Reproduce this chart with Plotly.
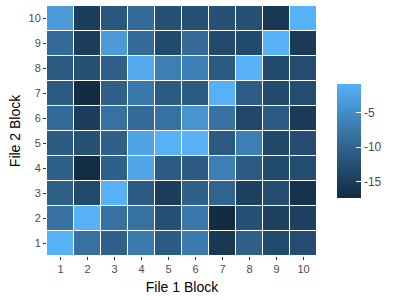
import plotly.graph_objects as go

blocks = list(range(1, 11))
# rows: File 2 Block 1..10 ; columns: File 1 Block 1..10
z_rows = [
    [-0.8, -8.3, -10.4, -7.1, -11.1, -7.1, -15.7, -10.4, -13.3, -12.8],   # y=1
    [-8.3, -0.8, -8.3, -8.3, -12.4, -7.4, -17.4, -12.4, -14.4, -14.4],    # y=2
    [-10.4, -13.3, -0.8, -11.1, -14.9, -10.4, -9.9, -14.4, -12.8, -16.6], # y=3
    [-10.4, -17.1, -10.4, -2.1, -11.1, -11.1, -6.6, -11.1, -13.3, -12.8], # y=4
    [-11.1, -12.4, -10.4, -2.5, -0.8, -0.8, -11.1, -6.6, -13.7, -12.8],   # y=5
    [-9.1, -14.9, -8.3, -9.1, -8.3, -4.1, -8.3, -13.7, -11.1, -15.4],     # y=6
    [-11.1, -17.4, -10.4, -7.4, -11.1, -11.1, -0.8, -10.8, -13.3, -12.8], # y=7
    [-11.1, -12.4, -10.4, -1.6, -6.6, -6.6, -11.1, -0.8, -13.3, -12.8],   # y=8
    [-9.1, -14.9, -3.3, -9.1, -13.3, -9.1, -13.3, -13.3, -0.8, -15.4],    # y=9
    [-3.3, -14.9, -11.6, -9.1, -12.4, -12.4, -12.4, -12.4, -15.7, -0.8],  # y=10
]
cbar_ticks = [-15, -10, -5]

colorscale = [
    [0.0, "#132B43"],
    [0.25, "#224A6C"],
    [0.5, "#336A98"],
    [0.75, "#448DC6"],
    [1.0, "#56B1F7"],
]

fig = go.Figure(go.Heatmap(
    x=blocks, y=blocks, z=z_rows,
    colorscale=colorscale,
    xgap=1, ygap=1,
    colorbar=dict(
        thickness=24, thicknessmode="pixels",
        len=114, lenmode="pixels",
        x=1.074, xanchor="left", xpad=0,
        y=0.46, yanchor="middle", ypad=0,
        outlinewidth=0,
        tickvals=cbar_ticks, ticktext=[str(t) for t in cbar_ticks],
        ticks="inside", ticklen=5, tickcolor="white", tickwidth=1,
        tickfont=dict(family="Liberation Sans, Arial", size=12, color="#4D4D4D"),
    ),
))

fig.update_layout(
    width=400, height=300,
    margin=dict(l=47, r=83, t=6, b=44),
    paper_bgcolor="white", plot_bgcolor="white",
    font=dict(family="Liberation Sans, Arial", color="black"),
    xaxis=dict(
        range=[0.5, 10.5], tickvals=blocks, ticktext=[str(b) for b in blocks],
        ticks="outside", ticklen=3, tickcolor="#333333",
        tickfont=dict(size=11, color="#4D4D4D"), showgrid=False, zeroline=False,
        automargin=False,
        title=dict(text="File 1 Block", font=dict(size=14), standoff=7),
    ),
    yaxis=dict(
        range=[0.5, 10.5], tickvals=blocks, ticktext=[str(b) for b in blocks],
        ticks="outside", ticklen=3, tickcolor="#333333",
        tickfont=dict(size=11, color="#4D4D4D"), showgrid=False, zeroline=False,
        automargin=False,
        title=dict(text="File 2 Block", font=dict(size=14), standoff=4),
    ),
)

fig.write_html("out.html", config={"displayModeBar": False},
               post_script="document.body.style.margin='0px';")
